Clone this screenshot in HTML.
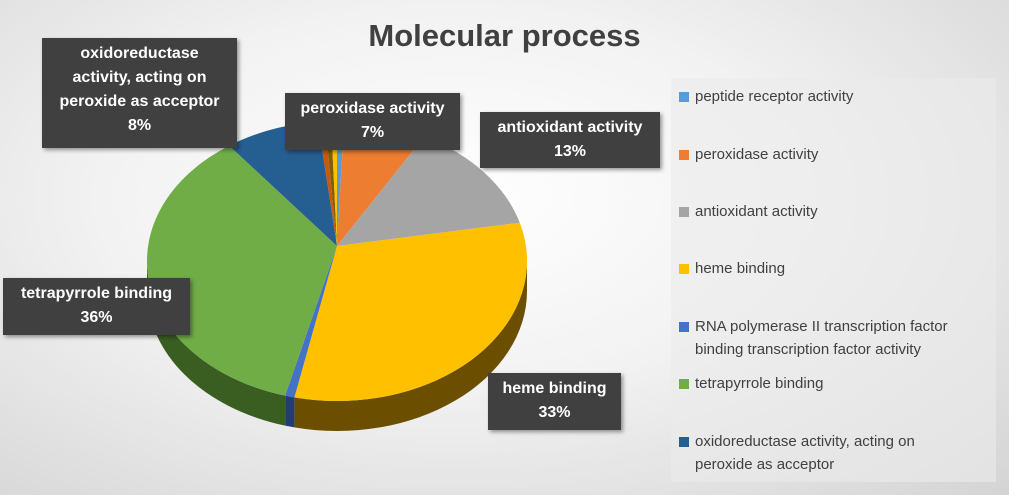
<!DOCTYPE html>
<html><head><meta charset="utf-8"><style>
body{margin:0;width:1009px;height:495px;overflow:hidden;font-family:"Liberation Sans",sans-serif}
#bg{position:absolute;left:0;top:0;width:1009px;height:495px;background:radial-gradient(ellipse at 45% 40%,#ffffff 0%,#f2f2f2 45%,#d4d4d4 100%);}
.lbl{position:absolute;background:#404040;color:#fff;font-weight:bold;font-size:16px;line-height:24px;text-align:center;box-shadow:2px 2px 4px rgba(0,0,0,.4)}
#leg{position:absolute;left:671px;top:78px;width:325px;height:404px;background:rgba(235,235,235,.6)}
.li{position:absolute;left:10px;font-size:15px;color:#404040;line-height:23px}
.sw{position:absolute;left:-2px;top:7px;width:10px;height:10px}
.li span.t{display:block;margin-left:14px}
</style></head><body>
<div id="bg"></div>
<div style="position:absolute;left:0;top:18px;width:1009px;text-align:center;font-size:31px;font-weight:bold;color:#404040">Molecular process</div>
<svg id="pie" width="1009" height="495" style="position:absolute;left:0;top:0"></svg>
<div class="lbl" style="left:42px;top:38px;width:195px;height:110px;padding-top:4px;box-sizing:border-box">oxidoreductase<br>activity, acting on<br>peroxide as acceptor<br>8%</div>
<div class="lbl" style="left:285px;top:93px;width:175px;height:57px;padding-top:4px;box-sizing:border-box">peroxidase activity<br>7%</div>
<div class="lbl" style="left:480px;top:112px;width:180px;height:56px;padding-top:4px;box-sizing:border-box">antioxidant activity<br>13%</div>
<div class="lbl" style="left:3px;top:278px;width:187px;height:57px;padding-top:4px;box-sizing:border-box">tetrapyrrole binding<br>36%</div>
<div class="lbl" style="left:488px;top:373px;width:133px;height:57px;padding-top:4px;box-sizing:border-box">heme binding<br>33%</div>
<div id="leg">
<div class="li" style="top:7px"><div class="sw" style="background:#5b9bd5"></div><span class="t">peptide receptor activity</span></div>
<div class="li" style="top:65px"><div class="sw" style="background:#ed7d31"></div><span class="t">peroxidase activity</span></div>
<div class="li" style="top:122px"><div class="sw" style="background:#a5a5a5"></div><span class="t">antioxidant activity</span></div>
<div class="li" style="top:179px"><div class="sw" style="background:#ffc000"></div><span class="t">heme binding</span></div>
<div class="li" style="top:237px"><div class="sw" style="background:#4472c4"></div><span class="t">RNA polymerase II transcription factor<br>binding transcription factor activity</span></div>
<div class="li" style="top:294px"><div class="sw" style="background:#70ad47"></div><span class="t">tetrapyrrole binding</span></div>
<div class="li" style="top:352px"><div class="sw" style="background:#255e91"></div><span class="t">oxidoreductase activity, acting on<br>peroxide as acceptor</span></div>
</div>
<script>
(function(){
var cx=337,cy=261,rx=190,ry=140,d=30,ax=337,ay=246;
var sl=[[0.6,"#5b9bd5","#2f5f8a"],[7,"#ed7d31","#9a4a18"],[13,"#a5a5a5","#666"],[33,"#ffc000","#6b4e00"],[0.8,"#4472c4","#223e70"],[36,"#70ad47","#3a5e22"],[8,"#255e91","#173a5a"],[0.6,"#c55a11","#7a380b"],[0.5,"#7f6000","#4a3800"],[0.5,"#ffc000","#6b4e00"]];
var tot=sl.reduce(function(a,s){return a+s[0];},0);
function P(t,o){return [cx+rx*Math.sin(t),cy-ry*Math.cos(t)+(o||0)];}
var svg=document.getElementById('pie'),sideS="",topS="",a=0;
sl.forEach(function(s){var b=a+s[0]/tot*2*Math.PI;
var s0=Math.max(a,Math.PI/2),s1=Math.min(b,3*Math.PI/2);
if(s1>s0){var p0=P(s0),p1=P(s1),q1=P(s1,d),q0=P(s0,d);
sideS+='<path d="M'+p0+' A'+rx+','+ry+' 0 0 1 '+p1+' L'+q1+' A'+rx+','+ry+' 0 0 0 '+q0+' Z" fill="'+s[2]+'"/>';}
var p=P(a),q=P(b),lg=(b-a)>Math.PI?1:0;
topS+='<path d="M'+ax+','+ay+' L'+p+' A'+rx+','+ry+' 0 '+lg+' 1 '+q+' Z" fill="'+s[1]+'"/>';a=b;});
svg.innerHTML=sideS+topS;
})();
</script>
</body></html>
